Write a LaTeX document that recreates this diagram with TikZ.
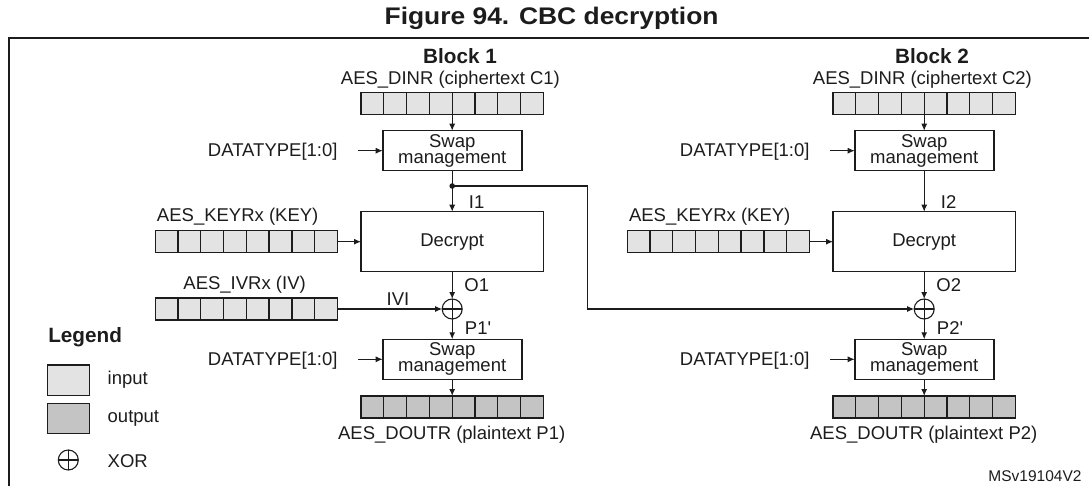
\documentclass[tikz,border=0pt]{standalone}
\usepackage{fontspec}
\setmainfont{Liberation Sans}
\usepackage{graphicx}
\usetikzlibrary{arrows.meta,calc}
\definecolor{ingray}{HTML}{E3E3E3}
\definecolor{outgray}{HTML}{C4C4C4}
\definecolor{ink}{HTML}{1C1C1C}
\newcommand\cellsplit[1]{%
  \foreach \i in {1,...,7}{\draw[line width=1.3pt,ink] ($(#1.north west)!\i/8!(#1.north east)$) -- ($(#1.south west)!\i/8!(#1.south east)$);}}
\newcommand\cbcblock[2]{%
\begin{scope}[xshift=#2pt]
  \node[blab] (blk#1) at (460,56) {Block #1};
  \node[lab] (inlab#1) at (450.4,80) {AES\_DINR (ciphertext C#1)};
  \node[inreg] (cin#1) at (452.2,103.3) {};
  \cellsplit{cin#1}
  \node[box, minimum width=139pt, minimum height=40pt] (swa#1) at (452.2,150.7) {Swap\\management};
  \draw[conn] (cin#1.south) -- (swa#1.north);
  \node[lab, anchor=east] (dta#1) at (337.5,151.5) {DATATYPE[1:0]};
  \coordinate (dtas#1) at (358,150.7);
  \draw[conn] (dtas#1) -- (swa#1.west);
  \node[box, minimum width=182.3pt, minimum height=60pt] (dec#1) at (452.2,241.7) {Decrypt};
  \draw[conn] (swa#1.south) -- (dec#1.north);
  \node[lab] (ilab#1) at (476.7,201.7) {I#1};
  \node[lab] (keylab#1) at (237.7,216.7) {AES\_KEYRx (KEY)};
  \node[inreg] (key#1) at (246.3,241.7) {};
  \cellsplit{key#1}
  \draw[conn] (key#1.east) -- (dec#1.west);
  \node[xorc] (xor#1) at (452.2,309) {};
  \draw[conn] (dec#1.south) -- (xor#1.north);
  \node[lab] (olab#1) at (476.7,285) {O#1};
  \node[lab] (plab#1) at (478,327.7) {P#1\textquotesingle};
  \node[box, minimum width=139pt, minimum height=40pt] (swb#1) at (452.2,359.3) {Swap\\management};
  \draw[conn] (xor#1.south) -- (swb#1.north);
  \node[lab, anchor=east] (dtb#1) at (337.5,360.5) {DATATYPE[1:0]};
  \coordinate (dtbs#1) at (358,359.3);
  \draw[conn] (dtbs#1) -- (swb#1.west);
  \node[outreg] (cout#1) at (452.2,407) {};
  \cellsplit{cout#1}
  \draw[conn] (swb#1.south) -- (cout#1.north);
  \node[lab] (outlab#1) at (451.7,434.3) {AES\_DOUTR (plaintext P#1)};
\end{scope}}
\begin{document}
\begin{tikzpicture}[x=1pt,y=-1pt,
  lab/.style={font=\fontsize{18.5}{16}\selectfont, inner sep=0pt, outer sep=0pt, text=ink},
  blab/.style={font=\bfseries\fontsize{20.7}{22}\selectfont, inner sep=0pt, outer sep=0pt, text=ink},
  reg/.style={draw=ink, line width=1.3pt, minimum width=182.3pt, minimum height=22pt, inner sep=0pt, outer sep=0pt},
  inreg/.style={reg, fill=ingray},
  outreg/.style={reg, fill=outgray},
  box/.style={draw=ink, line width=1.6pt, inner sep=0pt, outer sep=0pt, align=center, text=ink,
    font=\fontsize{18.5}{16}\selectfont},
  conn/.style={draw=ink, line width=1.1pt, -{Latex[length=7pt,width=6pt]}},
  xorc/.style={circle, draw=ink, line width=1.1pt, minimum size=20pt, inner sep=0pt, outer sep=0pt,
    path picture={\draw[line width=1.1pt,ink] (path picture bounding box.north) -- (path picture bounding box.south)
      (path picture bounding box.west) -- (path picture bounding box.east);}},
  frame/.style={draw=ink, line width=1.8pt}
]
\useasboundingbox (0,0) rectangle (1089,486);
\node[font=\bfseries\fontsize{24}{24}\selectfont, text=ink, inner sep=0pt] (title) at (551.6,18) {\scalebox{1.1}[1]{Figure 94. CBC decryption}};
\draw[frame] (1100,37.7) -- (9.3,37.7) -- (9.3,500);

\cbcblock{1}{0}
\cbcblock{2}{472}

% IV register (block 1 only)
\node[lab] (ivlab) at (244.6,285) {AES\_IVRx (IV)};
\node[inreg] (iv) at (246.3,309) {};
\cellsplit{iv}
\draw[conn] (iv.east) -- (xor1.west);
\node[lab] (ivi) at (398,299.5) {IVI};

% chaining connection
\coordinate (jn) at (452.2,186);
\fill[ink] (jn) circle (2.8pt);
\coordinate (cr1) at (587.3,186);
\coordinate (cr2) at (587.3,309);
\draw[conn] (jn) -- (cr1) -- (cr2) -- (xor2.west);

% legend
\node[blab, anchor=west] (leg) at (48.3,336.7) {Legend};
\node[draw=ink, line width=1.3pt, fill=ingray, minimum width=42pt, minimum height=30.5pt, inner sep=0pt] (legin) at (68.3,380.3) {};
\node[lab, anchor=west] (leginl) at (107.7,380) {input};
\node[draw=ink, line width=1.3pt, fill=outgray, minimum width=42pt, minimum height=30pt, inner sep=0pt] (legout) at (68.3,418.3) {};
\node[lab, anchor=west] (legoutl) at (107.7,418.3) {output};
\node[xorc] (legxor) at (68.3,460) {};
\node[lab, anchor=west] (legxorl) at (107.7,461) {XOR};

\node[font=\fontsize{15.5}{16}\selectfont, text=ink, inner sep=0pt, anchor=east] (code) at (1081.7,475.7) {MSv19104V2};
\end{tikzpicture}
\end{document}
